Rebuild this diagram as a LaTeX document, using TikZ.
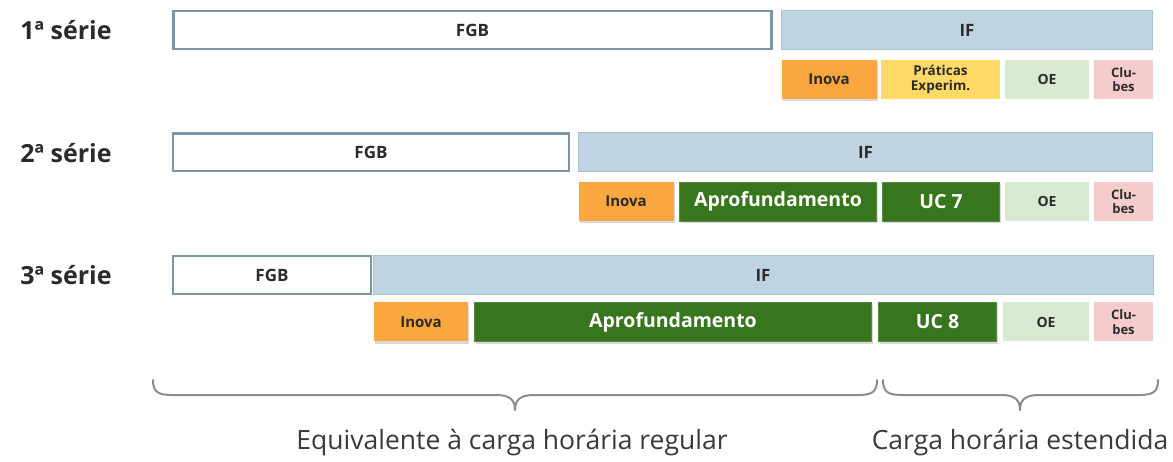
\documentclass[tikz,border=0pt]{standalone}
\usepackage{fontspec}
\setmainfont{Open Sans}
\usetikzlibrary{shadows}
\definecolor{txt}{HTML}{2B2B2B}
\definecolor{fgbline}{HTML}{7C95A2}
\definecolor{iffill}{HTML}{BED4E0}
\definecolor{ifline}{HTML}{A9C3D1}
\definecolor{inova}{HTML}{FBA73F}
\definecolor{prat}{HTML}{FFD966}
\definecolor{oe}{HTML}{D9EAD3}
\definecolor{clubes}{HTML}{F4CCCC}
\definecolor{aprof}{HTML}{38761D}
\definecolor{brace}{HTML}{8C8C8C}
\definecolor{bottxt}{HTML}{3A3A3A}
\begin{document}
\begin{tikzpicture}[x=1pt,y=-1pt,
  base/.style={inner sep=0pt, outer sep=0pt, align=center, text=txt},
  fgb/.style={base, draw=fgbline, line width=2.4pt, fill=white, minimum height=37.6pt, font=\fontsize{17}{18}\selectfont\bfseries},
  ifbox/.style={base, draw=ifline, line width=1pt, fill=iffill, minimum height=39pt, font=\fontsize{17}{18}\selectfont\bfseries},
  sub/.style={base, minimum height=39pt, font=\fontsize{14}{15}\selectfont\bfseries},
  shad/.style={drop shadow={opacity=0.3, shadow xshift=1pt, shadow yshift=-2.5pt}},
  inovabox/.style={sub, fill=inova, shad, font=\fontsize{15}{16}\selectfont\bfseries},
  pratbox/.style={sub, fill=prat, font=\fontsize{13.5}{15}\selectfont\bfseries},
  oebox/.style={sub, fill=oe},
  clubox/.style={sub, fill=clubes, font=\fontsize{13}{14.5}\selectfont\bfseries},
  greenbox/.style={sub, fill=aprof, draw=aprof!85!white, line width=0.8pt, text=white, shad, font=\fontsize{19.5}{21}\selectfont\bfseries},
  serie/.style={inner sep=0pt, text=txt, font=\fontsize{25}{27}\selectfont\bfseries},
  bottom/.style={inner sep=0pt, text=bottxt, font=\fontsize{26.5}{30}\selectfont},
  bracepath/.style={draw=brace, line width=2pt, line cap=round, line join=round}]
\useasboundingbox (0,0) rectangle (1173,462);

% row labels
\node[serie] (s1) at (66,30) {1ª série};
\node[serie] (s2) at (66,153) {2ª série};
\node[serie] (s3) at (66,275) {3ª série};

% row 1
\node[fgb, minimum width=598pt] (fgb1) at (472.5,30) {FGB};
\node[ifbox, minimum width=371pt] (if1) at (967,30) {IF};
\node[inovabox, minimum width=95pt] (in1) at (829,79.5) {Inova};
\node[pratbox, minimum width=119pt] (pr1) at (940.5,79.5) {Práticas\\Experim.};
\node[oebox, minimum width=84pt] (oe1) at (1047,79.5) {OE};
\node[clubox, minimum width=59pt] (cl1) at (1123.5,79.5) {Clu-\\bes};

% row 2
\node[fgb, minimum width=396pt] (fgb2) at (371,152.5) {FGB};
\node[ifbox, minimum width=574pt] (if2) at (865.5,152.5) {IF};
\node[inovabox, minimum width=95pt] (in2) at (626,201.5) {Inova};
\node[greenbox, minimum width=197pt] (ap2) at (778,201.5) {Aprofundamento};
\node[greenbox, minimum width=117pt] (uc7) at (941,201.5) {UC 7};
\node[oebox, minimum width=84pt] (oe2) at (1047,201.5) {OE};
\node[clubox, minimum width=59pt] (cl2) at (1123.5,201.5) {Clu-\\bes};

% row 3
\node[fgb, minimum width=198pt] (fgb3) at (272,275) {FGB};
\node[ifbox, minimum width=780pt] (if3) at (763,275) {IF};
\node[inovabox, minimum width=94pt] (in3) at (421,322) {Inova};
\node[greenbox, minimum width=397pt] (ap3) at (673,322) {Aprofundamento};
\node[greenbox, minimum width=118pt] (uc8) at (937.5,322) {UC 8};
\node[oebox, minimum width=86pt] (oe3) at (1046,322) {OE};
\node[clubox, minimum width=59pt] (cl3) at (1123.5,322) {Clu-\\bes};

% braces
\path[bracepath] (153,380) .. controls (153,392) and (158,395) .. (172,395)
  -- (496,395) .. controls (510,395) and (515,400) .. (515,410)
  .. controls (515,400) and (520,395) .. (534,395)
  -- (858,395) .. controls (872,395) and (877,392) .. (877,380);
\path[bracepath] (883,380) .. controls (883,392) and (888,395) .. (902,395)
  -- (1001,395) .. controls (1015,395) and (1020,400) .. (1020,410)
  .. controls (1020,400) and (1025,395) .. (1039,395)
  -- (1139,395) .. controls (1153,395) and (1158,392) .. (1158,380);

\node[bottom] (t1) at (512,443) {Equivalente à carga horária regular};
\node[bottom] (t2) at (1020,443) {Carga horária estendida};
\end{tikzpicture}
\end{document}
